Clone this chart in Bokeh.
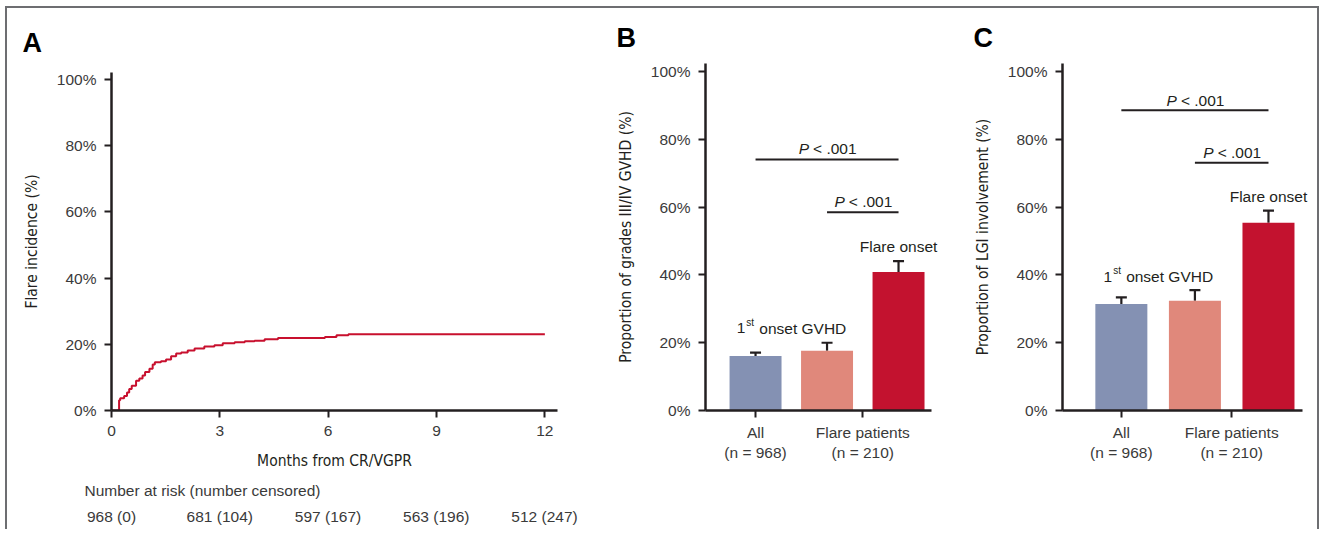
from bokeh.plotting import figure
from bokeh.models import (FixedTicker, Whisker, ColumnDataSource, Range1d, TeeHead, Title)
from bokeh.layouts import row, column
from bokeh.embed import file_html
from bokeh.resources import INLINE
from bokeh.core.properties import value

# ---------------- data ----------------
# Panel A: cumulative flare incidence (step curve)
km_months = [0, 0.21, 0.24, 0.35, 0.43, 0.49, 0.56, 0.68, 0.77, 0.86, 0.93, 1.05,
             1.14, 1.20, 1.37, 1.51, 1.65, 1.79, 1.93, 2.11, 2.30, 2.57, 2.85,
             3.08, 3.41, 3.69, 3.96, 4.24, 4.61, 5.91, 6.23, 6.56, 12.0]
km_incidence = [0, 3.1, 3.7, 4.4, 5.4, 6.5, 7.5, 9.0, 9.7, 10.6, 11.6, 12.6,
                13.9, 14.6, 14.9, 15.4, 16.4, 17.2, 17.5, 18.1, 18.7, 19.3, 19.7,
                20.3, 20.6, 20.9, 21.1, 21.5, 21.9, 22.2, 22.7, 23.0, 23.0]
month_ticks = [0, 3, 6, 9, 12]
pct_ticks = [0, 20, 40, 60, 80, 100]
pct_labels = ["0%", "20%", "40%", "60%", "80%", "100%"]
risk_months = [0, 3, 6, 9, 12]
risk_labels = ["968 (0)", "681 (104)", "597 (167)", "563 (196)", "512 (247)"]
risk_title = "Number at risk (number censored)"

# Panels B and C: bars
bar_x = [1, 2, 3]
bar_colors = ["#8491b3", "#e0887b", "#c3122f"]
cat_ticks = [1, 2.5]
cat_labels = ["All\n(n = 968)", "Flare patients\n(n = 210)"]

b_values = [16.1, 17.6, 40.9]
b_upper = [17.1, 20.0, 44.1]
b_p_x0 = [1, 2]
b_p_x1 = [3, 3]
b_p_y = [74.1, 58.5]
b_p_text_y = [77.3, 61.8]
b_flare_y = 48.3
b_first_y = 24.2

c_values = [31.4, 32.4, 55.4]
c_upper = [33.4, 35.5, 59.0]
c_p_x0 = [1, 2]
c_p_x1 = [3, 3]
c_p_y = [88.6, 73.1]
c_p_text_y = [91.6, 76.1]
c_flare_y = 63.1
c_first_y = 39.5

INK = "#231f20"
TXT = "#3a3a3a"
SANS = "Liberation Sans"
FS = "15.5px"
NARROW = "'DejaVu Sans Condensed', 'Liberation Sans', sans-serif"
HAS_STANDOFF = "standoff" in Title.properties()


def style_axes(p):
    for ax in (p.xaxis[0], p.yaxis[0]):
        ax.axis_line_width = 2.5
        ax.axis_line_color = INK
        ax.major_tick_line_color = INK
        ax.major_tick_line_width = 2
        ax.major_tick_out = 7
        ax.major_tick_in = 0
        ax.minor_tick_line_color = None
        ax.major_label_text_font = SANS
        ax.major_label_text_font_size = FS
        ax.major_label_text_color = TXT
        ax.major_label_standoff = 8
        ax.axis_label_text_font = NARROW
        ax.axis_label_text_font_style = "normal"
        ax.axis_label_text_font_size = "15.5px"
        ax.axis_label_text_color = INK
        ax.axis_label_standoff = 13
    p.yaxis[0].ticker = FixedTicker(ticks=pct_ticks)
    p.yaxis[0].major_label_overrides = {t: l for t, l in zip(pct_ticks, pct_labels)}
    p.grid.visible = False
    p.outline_line_color = None
    p.background_fill_color = "white"
    p.border_fill_color = "white"


def letter_title(p, letter, standoff):
    p.title.text = letter
    p.title.align = "left"
    p.title.offset = -89
    p.title.text_font = SANS
    p.title.text_font_style = "bold"
    p.title.text_font_size = "27px"
    p.title.text_color = "black"
    if HAS_STANDOFF:
        p.title.standoff = standoff


# ---------------- panel A ----------------
pA = figure(width=593, height=470, output_backend="svg", toolbar_location=None,
            x_range=Range1d(0, 12.35), y_range=Range1d(0, 102.1),
            min_border_left=104, min_border_right=43, min_border_top=64,
            min_border_bottom=68, frame_align=False)
style_axes(pA)
letter_title(pA, "A", 30)
pA.xaxis[0].ticker = FixedTicker(ticks=month_ticks)
pA.xaxis[0].axis_label = "Months from CR/VGPR"
pA.xaxis[0].axis_label_standoff = 13
pA.yaxis[0].axis_label = "Flare incidence (%)"
pA.step(x=km_months, y=km_incidence, mode="after", line_color="#c8102e", line_width=2)

# number-at-risk table, drawn on the same months scale as panel A
PX_PER_MONTH = (544 - 111) / 12.0
risk = figure(width=593, height=51, output_backend="svg", toolbar_location=None,
              x_range=Range1d(-104 / PX_PER_MONTH, 489 / PX_PER_MONTH),
              y_range=Range1d(51, 0), x_axis_type=None, y_axis_type=None,
              min_border=0, frame_align=False)
risk.grid.visible = False
risk.outline_line_color = None
risk.text(x=[-27 / PX_PER_MONTH], y=[12], text=[risk_title], text_font=value(SANS),
          text_font_size=FS, text_color=TXT, text_align="left",
          text_baseline="middle")
risk.text(x=risk_months, y=[38] * len(risk_months), text=risk_labels,
          text_font=value(SANS), text_font_size=FS, text_color=TXT,
          text_align="center", text_baseline="middle")


# ---------------- panels B and C ----------------
def bar_panel(letter, values, upper, ylabel, p_x0, p_x1, p_y, p_text_y,
              flare_y, first_y, width, mbl, mbr, x_lo, x_hi, axis_hi, bar_w):
    p = figure(width=width, height=521, output_backend="svg", toolbar_location=None,
               x_range=Range1d(x_lo, x_hi), y_range=Range1d(0, 102.4),
               min_border_left=mbl, min_border_right=mbr, min_border_top=55,
               min_border_bottom=119, frame_align=False)
    style_axes(p)
    letter_title(p, letter, 21)
    p.yaxis[0].axis_label = ylabel
    p.xaxis[0].bounds = (x_lo, axis_hi)
    p.xaxis[0].ticker = FixedTicker(ticks=cat_ticks)
    p.xaxis[0].major_label_overrides = {t: l for t, l in zip(cat_ticks, cat_labels)}
    p.xaxis[0].major_label_standoff = 6

    src = ColumnDataSource(dict(x=bar_x, top=values, upper=upper, color=bar_colors))
    p.vbar(x="x", top="top", width=bar_w, bottom=0, color="color", source=src,
           line_color=None)
    p.add_layout(Whisker(source=src, base="x", lower="top", upper="upper",
                         line_color=INK, line_width=2.2, lower_head=None,
                         upper_head=TeeHead(size=11, line_color=INK, line_width=2.2)))

    p.segment(x0=p_x0, x1=p_x1, y0=p_y, y1=p_y, line_color=INK, line_width=2)
    mids = [(a + b) / 2 for a, b in zip(p_x0, p_x1)]
    p.text(x=mids, y=p_text_y, text=["P"] * len(mids), text_font=value(SANS),
           text_font_style="italic", text_font_size=FS, text_color=INK,
           text_align="right", text_baseline="middle", x_offset=-18)
    p.text(x=mids, y=p_text_y, text=["< .001"] * len(mids), text_font=value(SANS),
           text_font_size=FS, text_color=INK,
           text_align="left", text_baseline="middle", x_offset=-14)

    p.text(x=[3], y=[flare_y], text=["Flare onset"], text_font=value(SANS),
           text_font_size=FS, text_color=INK, text_align="center",
           text_baseline="middle")
    p.text(x=[1.5], y=[first_y], text=["1"], text_font=value(SANS),
           text_font_size=FS, text_color=INK, text_align="right",
           text_baseline="middle", x_offset=-46)
    p.text(x=[1.5], y=[first_y], text=["st"], text_font=value(SANS),
           text_font_size="10px", text_color=INK, text_align="left",
           text_baseline="middle", x_offset=-45, y_offset=-6)
    p.text(x=[1.5], y=[first_y], text=["onset GVHD"], text_font=value(SANS),
           text_font_size=FS, text_color=INK, text_align="right",
           text_baseline="middle", x_offset=55)
    return p


pB = bar_panel("B", b_values, b_upper, "Proportion of grades III/IV GVHD (%)",
               b_p_x0, b_p_x1, b_p_y, b_p_text_y, b_flare_y, b_first_y,
               width=355, mbl=105, mbr=15, x_lo=0.30, x_hi=3.587, axis_hi=3.46,
               bar_w=0.727)
pC = bar_panel("C", c_values, c_upper, "Proportion of LGI involvement (%)",
               c_p_x0, c_p_x1, c_p_y, c_p_text_y, c_flare_y, c_first_y,
               width=362, mbl=107, mbr=9, x_lo=0.20, x_hi=3.544, axis_hi=3.46,
               bar_w=0.707)

layout = row(column(pA, risk), pB, pC,
             styles={"margin-left": "5px", "margin-top": "6px",
                     "border-top": "2px solid #6d6e71",
                     "border-left": "2px solid #6d6e71",
                     "border-right": "2px solid #6d6e71"})

open("out.html", "w").write(file_html(layout, INLINE))
